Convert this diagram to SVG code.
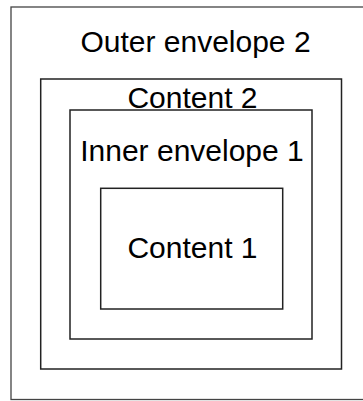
<svg xmlns="http://www.w3.org/2000/svg" width="363" height="401" viewBox="0 0 363 401">
<style>
.box{fill:none;stroke:#222;stroke-width:1.5}
.outer{fill:none;stroke:#444;stroke-width:1.3}
.lbl{font-family:"Liberation Sans",Arial,sans-serif;font-size:30px;fill:#000;text-anchor:middle}
</style>
<rect width="363" height="401" fill="#fff"/>
<g id="outer-envelope-2">
<rect class="outer" x="11" y="7" width="362" height="392.5"/>
<text class="lbl" x="195.5" y="52">Outer envelope 2</text>
</g>
<g id="content-2">
<rect class="box" x="40.7" y="79" width="300.8" height="290"/>
<text class="lbl" x="192.5" y="108">Content 2</text>
</g>
<g id="inner-envelope-1">
<rect class="box" x="70" y="110" width="242" height="229"/>
<text class="lbl" x="192" y="161">Inner envelope 1</text>
</g>
<g id="content-1">
<rect class="box" x="100.7" y="188.3" width="182" height="120.7"/>
<text class="lbl" x="192.5" y="258">Content 1</text>
</g>
<g id="connectors"/>
</svg>
